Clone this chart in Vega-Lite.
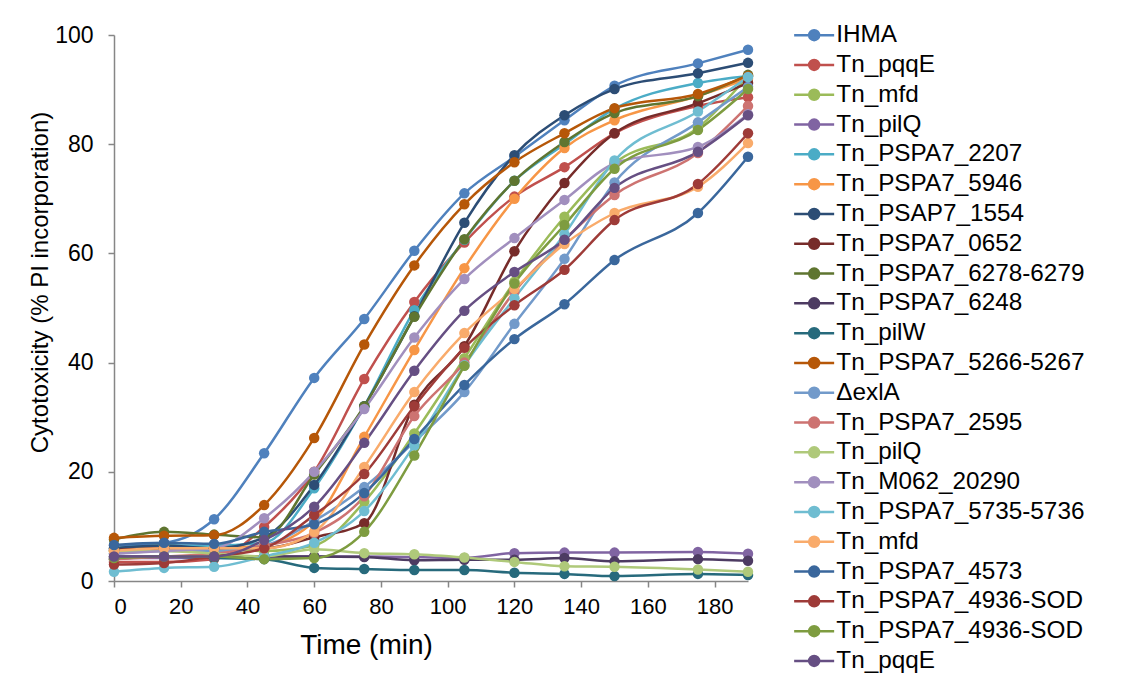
{
  "$schema": "https://vega.github.io/schema/vega-lite/v6.json",
  "width": 634,
  "height": 546,
  "autosize": "none",
  "padding": {"left": 114, "top": 35, "right": 375, "bottom": 94},
  "background": "white",
  "config": {
    "view": {"stroke": null},
    "font": "Liberation Sans",
    "axis": {
      "domainColor": "#868686", "tickColor": "#868686", "domainWidth": 1.5, "tickWidth": 1.5, "tickSize": 6,
      "labelFont": "Liberation Sans", "labelFontSize": 22, "labelColor": "#000",
      "titleFont": "Liberation Sans", "titleFontWeight": "normal", "titleColor": "#000",
      "grid": false
    }
  },
  "data": {"values": [
    {"s":"IHMA","t":0,"v":6.5},{"s":"IHMA","t":15,"v":7.0},{"s":"IHMA","t":30,"v":11.3},{"s":"IHMA","t":45,"v":23.4},{"s":"IHMA","t":60,"v":37.2},{"s":"IHMA","t":75,"v":48.0},{"s":"IHMA","t":90,"v":60.5},{"s":"IHMA","t":105,"v":71.0},{"s":"IHMA","t":120,"v":77.7},{"s":"IHMA","t":135,"v":84.4},{"s":"IHMA","t":150,"v":90.7},{"s":"IHMA","t":175,"v":94.8},{"s":"IHMA","t":190,"v":97.3},
    {"s":"Tn_pqqE","t":0,"v":3.5},{"s":"Tn_pqqE","t":15,"v":3.5},{"s":"Tn_pqqE","t":30,"v":4.0},{"s":"Tn_pqqE","t":45,"v":9.9},{"s":"Tn_pqqE","t":60,"v":20.0},{"s":"Tn_pqqE","t":75,"v":37.0},{"s":"Tn_pqqE","t":90,"v":51.1},{"s":"Tn_pqqE","t":105,"v":62.0},{"s":"Tn_pqqE","t":120,"v":70.4},{"s":"Tn_pqqE","t":135,"v":75.8},{"s":"Tn_pqqE","t":150,"v":82.0},{"s":"Tn_pqqE","t":175,"v":87.0},{"s":"Tn_pqqE","t":190,"v":88.6},
    {"s":"Tn_mfd","t":0,"v":5.5},{"s":"Tn_mfd","t":15,"v":6.5},{"s":"Tn_mfd","t":30,"v":6.0},{"s":"Tn_mfd","t":45,"v":5.5},{"s":"Tn_mfd","t":60,"v":6.5},{"s":"Tn_mfd","t":75,"v":14.5},{"s":"Tn_mfd","t":90,"v":27.0},{"s":"Tn_mfd","t":105,"v":40.8},{"s":"Tn_mfd","t":120,"v":54.8},{"s":"Tn_mfd","t":135,"v":66.7},{"s":"Tn_mfd","t":150,"v":76.5},{"s":"Tn_mfd","t":175,"v":83.0},{"s":"Tn_mfd","t":190,"v":92.5},
    {"s":"Tn_pilQ","t":0,"v":4.2},{"s":"Tn_pilQ","t":15,"v":4.2},{"s":"Tn_pilQ","t":30,"v":4.3},{"s":"Tn_pilQ","t":45,"v":4.5},{"s":"Tn_pilQ","t":60,"v":4.5},{"s":"Tn_pilQ","t":75,"v":4.5},{"s":"Tn_pilQ","t":90,"v":4.4},{"s":"Tn_pilQ","t":105,"v":4.2},{"s":"Tn_pilQ","t":120,"v":5.1},{"s":"Tn_pilQ","t":135,"v":5.2},{"s":"Tn_pilQ","t":150,"v":5.2},{"s":"Tn_pilQ","t":175,"v":5.3},{"s":"Tn_pilQ","t":190,"v":5.0},
    {"s":"Tn_PSPA7_2207","t":0,"v":6.0},{"s":"Tn_PSPA7_2207","t":15,"v":6.5},{"s":"Tn_PSPA7_2207","t":30,"v":6.5},{"s":"Tn_PSPA7_2207","t":45,"v":7.0},{"s":"Tn_PSPA7_2207","t":60,"v":17.0},{"s":"Tn_PSPA7_2207","t":75,"v":32.0},{"s":"Tn_PSPA7_2207","t":90,"v":49.6},{"s":"Tn_PSPA7_2207","t":105,"v":62.5},{"s":"Tn_PSPA7_2207","t":120,"v":73.3},{"s":"Tn_PSPA7_2207","t":135,"v":80.0},{"s":"Tn_PSPA7_2207","t":150,"v":86.5},{"s":"Tn_PSPA7_2207","t":175,"v":91.2},{"s":"Tn_PSPA7_2207","t":190,"v":92.5},
    {"s":"Tn_PSPA7_5946","t":0,"v":5.5},{"s":"Tn_PSPA7_5946","t":15,"v":6.0},{"s":"Tn_PSPA7_5946","t":30,"v":6.0},{"s":"Tn_PSPA7_5946","t":45,"v":6.5},{"s":"Tn_PSPA7_5946","t":60,"v":11.0},{"s":"Tn_PSPA7_5946","t":75,"v":26.4},{"s":"Tn_PSPA7_5946","t":90,"v":42.3},{"s":"Tn_PSPA7_5946","t":105,"v":57.3},{"s":"Tn_PSPA7_5946","t":120,"v":70.0},{"s":"Tn_PSPA7_5946","t":135,"v":79.3},{"s":"Tn_PSPA7_5946","t":150,"v":84.4},{"s":"Tn_PSPA7_5946","t":175,"v":88.8},{"s":"Tn_PSPA7_5946","t":190,"v":92.0},
    {"s":"Tn_PSAP7_1554","t":0,"v":6.0},{"s":"Tn_PSAP7_1554","t":15,"v":6.5},{"s":"Tn_PSAP7_1554","t":30,"v":6.0},{"s":"Tn_PSAP7_1554","t":45,"v":8.0},{"s":"Tn_PSAP7_1554","t":60,"v":17.6},{"s":"Tn_PSAP7_1554","t":75,"v":32.0},{"s":"Tn_PSAP7_1554","t":90,"v":48.5},{"s":"Tn_PSAP7_1554","t":105,"v":65.6},{"s":"Tn_PSAP7_1554","t":120,"v":78.0},{"s":"Tn_PSAP7_1554","t":135,"v":85.3},{"s":"Tn_PSAP7_1554","t":150,"v":90.1},{"s":"Tn_PSAP7_1554","t":175,"v":93.0},{"s":"Tn_PSAP7_1554","t":190,"v":94.9},
    {"s":"Tn_PSPA7_0652","t":0,"v":5.7},{"s":"Tn_PSPA7_0652","t":15,"v":6.0},{"s":"Tn_PSPA7_0652","t":30,"v":6.0},{"s":"Tn_PSPA7_0652","t":45,"v":6.0},{"s":"Tn_PSPA7_0652","t":60,"v":8.0},{"s":"Tn_PSPA7_0652","t":75,"v":10.6},{"s":"Tn_PSPA7_0652","t":90,"v":32.3},{"s":"Tn_PSPA7_0652","t":105,"v":43.0},{"s":"Tn_PSPA7_0652","t":120,"v":60.4},{"s":"Tn_PSPA7_0652","t":135,"v":72.9},{"s":"Tn_PSPA7_0652","t":150,"v":82.0},{"s":"Tn_PSPA7_0652","t":175,"v":87.5},{"s":"Tn_PSPA7_0652","t":190,"v":91.2},
    {"s":"Tn_PSPA7_6278-6279","t":0,"v":7.6},{"s":"Tn_PSPA7_6278-6279","t":15,"v":9.0},{"s":"Tn_PSPA7_6278-6279","t":30,"v":8.5},{"s":"Tn_PSPA7_6278-6279","t":45,"v":8.0},{"s":"Tn_PSPA7_6278-6279","t":60,"v":19.5},{"s":"Tn_PSPA7_6278-6279","t":75,"v":32.0},{"s":"Tn_PSPA7_6278-6279","t":90,"v":48.4},{"s":"Tn_PSPA7_6278-6279","t":105,"v":62.6},{"s":"Tn_PSPA7_6278-6279","t":120,"v":73.3},{"s":"Tn_PSPA7_6278-6279","t":135,"v":80.4},{"s":"Tn_PSPA7_6278-6279","t":150,"v":85.7},{"s":"Tn_PSPA7_6278-6279","t":175,"v":88.8},{"s":"Tn_PSPA7_6278-6279","t":190,"v":92.7},
    {"s":"Tn_PSPA7_6248","t":0,"v":4.5},{"s":"Tn_PSPA7_6248","t":15,"v":4.5},{"s":"Tn_PSPA7_6248","t":30,"v":4.5},{"s":"Tn_PSPA7_6248","t":45,"v":4.5},{"s":"Tn_PSPA7_6248","t":60,"v":4.5},{"s":"Tn_PSPA7_6248","t":75,"v":4.4},{"s":"Tn_PSPA7_6248","t":90,"v":3.8},{"s":"Tn_PSPA7_6248","t":105,"v":3.9},{"s":"Tn_PSPA7_6248","t":120,"v":3.9},{"s":"Tn_PSPA7_6248","t":135,"v":4.2},{"s":"Tn_PSPA7_6248","t":150,"v":3.6},{"s":"Tn_PSPA7_6248","t":175,"v":4.0},{"s":"Tn_PSPA7_6248","t":190,"v":3.7},
    {"s":"Tn_pilW","t":0,"v":4.0},{"s":"Tn_pilW","t":15,"v":4.5},{"s":"Tn_pilW","t":30,"v":4.2},{"s":"Tn_pilW","t":45,"v":4.0},{"s":"Tn_pilW","t":60,"v":2.4},{"s":"Tn_pilW","t":75,"v":2.2},{"s":"Tn_pilW","t":90,"v":2.0},{"s":"Tn_pilW","t":105,"v":2.0},{"s":"Tn_pilW","t":120,"v":1.5},{"s":"Tn_pilW","t":135,"v":1.3},{"s":"Tn_pilW","t":150,"v":0.9},{"s":"Tn_pilW","t":175,"v":1.3},{"s":"Tn_pilW","t":190,"v":1.1},
    {"s":"Tn_PSPA7_5266-5267","t":0,"v":7.9},{"s":"Tn_PSPA7_5266-5267","t":15,"v":8.3},{"s":"Tn_PSPA7_5266-5267","t":30,"v":8.4},{"s":"Tn_PSPA7_5266-5267","t":45,"v":13.9},{"s":"Tn_PSPA7_5266-5267","t":60,"v":26.2},{"s":"Tn_PSPA7_5266-5267","t":75,"v":43.3},{"s":"Tn_PSPA7_5266-5267","t":90,"v":57.8},{"s":"Tn_PSPA7_5266-5267","t":105,"v":69.0},{"s":"Tn_PSPA7_5266-5267","t":120,"v":76.7},{"s":"Tn_PSPA7_5266-5267","t":135,"v":82.0},{"s":"Tn_PSPA7_5266-5267","t":150,"v":86.6},{"s":"Tn_PSPA7_5266-5267","t":175,"v":89.2},{"s":"Tn_PSPA7_5266-5267","t":190,"v":92.5},
    {"s":"ΔexlA","t":0,"v":5.0},{"s":"ΔexlA","t":15,"v":5.5},{"s":"ΔexlA","t":30,"v":5.5},{"s":"ΔexlA","t":45,"v":6.5},{"s":"ΔexlA","t":60,"v":11.0},{"s":"ΔexlA","t":75,"v":17.2},{"s":"ΔexlA","t":90,"v":25.5},{"s":"ΔexlA","t":105,"v":34.6},{"s":"ΔexlA","t":120,"v":47.1},{"s":"ΔexlA","t":135,"v":59.0},{"s":"ΔexlA","t":150,"v":73.0},{"s":"ΔexlA","t":175,"v":84.0},{"s":"ΔexlA","t":190,"v":90.5},
    {"s":"Tn_PSPA7_2595","t":0,"v":4.0},{"s":"Tn_PSPA7_2595","t":15,"v":4.5},{"s":"Tn_PSPA7_2595","t":30,"v":5.0},{"s":"Tn_PSPA7_2595","t":45,"v":6.5},{"s":"Tn_PSPA7_2595","t":60,"v":8.8},{"s":"Tn_PSPA7_2595","t":75,"v":15.5},{"s":"Tn_PSPA7_2595","t":90,"v":30.2},{"s":"Tn_PSPA7_2595","t":105,"v":40.0},{"s":"Tn_PSPA7_2595","t":120,"v":53.0},{"s":"Tn_PSPA7_2595","t":135,"v":62.5},{"s":"Tn_PSPA7_2595","t":150,"v":70.7},{"s":"Tn_PSPA7_2595","t":175,"v":78.4},{"s":"Tn_PSPA7_2595","t":190,"v":87.0},
    {"s":"Tn_pilQ ","t":0,"v":5.5},{"s":"Tn_pilQ ","t":15,"v":5.5},{"s":"Tn_pilQ ","t":30,"v":5.0},{"s":"Tn_pilQ ","t":45,"v":4.5},{"s":"Tn_pilQ ","t":60,"v":5.8},{"s":"Tn_pilQ ","t":75,"v":5.1},{"s":"Tn_pilQ ","t":90,"v":4.9},{"s":"Tn_pilQ ","t":105,"v":4.3},{"s":"Tn_pilQ ","t":120,"v":3.5},{"s":"Tn_pilQ ","t":135,"v":2.7},{"s":"Tn_pilQ ","t":150,"v":2.6},{"s":"Tn_pilQ ","t":175,"v":2.1},{"s":"Tn_pilQ ","t":190,"v":1.7},
    {"s":"Tn_M062_20290","t":0,"v":5.0},{"s":"Tn_M062_20290","t":15,"v":5.5},{"s":"Tn_M062_20290","t":30,"v":6.0},{"s":"Tn_M062_20290","t":45,"v":11.5},{"s":"Tn_M062_20290","t":60,"v":20.0},{"s":"Tn_M062_20290","t":75,"v":31.5},{"s":"Tn_M062_20290","t":90,"v":44.6},{"s":"Tn_M062_20290","t":105,"v":55.3},{"s":"Tn_M062_20290","t":120,"v":62.8},{"s":"Tn_M062_20290","t":135,"v":69.8},{"s":"Tn_M062_20290","t":150,"v":76.5},{"s":"Tn_M062_20290","t":175,"v":79.5},{"s":"Tn_M062_20290","t":190,"v":85.5},
    {"s":"Tn_PSPA7_5735-5736","t":0,"v":1.7},{"s":"Tn_PSPA7_5735-5736","t":15,"v":2.4},{"s":"Tn_PSPA7_5735-5736","t":30,"v":2.6},{"s":"Tn_PSPA7_5735-5736","t":45,"v":4.5},{"s":"Tn_PSPA7_5735-5736","t":60,"v":7.0},{"s":"Tn_PSPA7_5735-5736","t":75,"v":12.8},{"s":"Tn_PSPA7_5735-5736","t":90,"v":24.8},{"s":"Tn_PSPA7_5735-5736","t":105,"v":39.5},{"s":"Tn_PSPA7_5735-5736","t":120,"v":51.8},{"s":"Tn_PSPA7_5735-5736","t":135,"v":63.5},{"s":"Tn_PSPA7_5735-5736","t":150,"v":77.0},{"s":"Tn_PSPA7_5735-5736","t":175,"v":86.0},{"s":"Tn_PSPA7_5735-5736","t":190,"v":92.3},
    {"s":"Tn_mfd ","t":0,"v":5.5},{"s":"Tn_mfd ","t":15,"v":6.0},{"s":"Tn_mfd ","t":30,"v":6.0},{"s":"Tn_mfd ","t":45,"v":6.0},{"s":"Tn_mfd ","t":60,"v":9.0},{"s":"Tn_mfd ","t":75,"v":20.9},{"s":"Tn_mfd ","t":90,"v":34.6},{"s":"Tn_mfd ","t":105,"v":45.4},{"s":"Tn_mfd ","t":120,"v":53.5},{"s":"Tn_mfd ","t":135,"v":61.7},{"s":"Tn_mfd ","t":150,"v":67.4},{"s":"Tn_mfd ","t":175,"v":72.2},{"s":"Tn_mfd ","t":190,"v":80.2},
    {"s":"Tn_PSPA7_4573","t":0,"v":6.6},{"s":"Tn_PSPA7_4573","t":15,"v":7.0},{"s":"Tn_PSPA7_4573","t":30,"v":6.8},{"s":"Tn_PSPA7_4573","t":45,"v":9.0},{"s":"Tn_PSPA7_4573","t":60,"v":10.4},{"s":"Tn_PSPA7_4573","t":75,"v":16.1},{"s":"Tn_PSPA7_4573","t":90,"v":26.0},{"s":"Tn_PSPA7_4573","t":105,"v":35.9},{"s":"Tn_PSPA7_4573","t":120,"v":44.3},{"s":"Tn_PSPA7_4573","t":135,"v":50.7},{"s":"Tn_PSPA7_4573","t":150,"v":58.8},{"s":"Tn_PSPA7_4573","t":175,"v":67.4},{"s":"Tn_PSPA7_4573","t":190,"v":77.7},
    {"s":"Tn_PSPA7_4936-SOD","t":0,"v":3.0},{"s":"Tn_PSPA7_4936-SOD","t":15,"v":3.3},{"s":"Tn_PSPA7_4936-SOD","t":30,"v":4.5},{"s":"Tn_PSPA7_4936-SOD","t":45,"v":6.0},{"s":"Tn_PSPA7_4936-SOD","t":60,"v":12.1},{"s":"Tn_PSPA7_4936-SOD","t":75,"v":19.6},{"s":"Tn_PSPA7_4936-SOD","t":90,"v":32.0},{"s":"Tn_PSPA7_4936-SOD","t":105,"v":42.7},{"s":"Tn_PSPA7_4936-SOD","t":120,"v":50.5},{"s":"Tn_PSPA7_4936-SOD","t":135,"v":57.0},{"s":"Tn_PSPA7_4936-SOD","t":150,"v":66.1},{"s":"Tn_PSPA7_4936-SOD","t":175,"v":72.7},{"s":"Tn_PSPA7_4936-SOD","t":190,"v":82.0},
    {"s":"Tn_PSPA7_4936-SOD ","t":0,"v":4.2},{"s":"Tn_PSPA7_4936-SOD ","t":15,"v":4.5},{"s":"Tn_PSPA7_4936-SOD ","t":30,"v":4.5},{"s":"Tn_PSPA7_4936-SOD ","t":45,"v":4.0},{"s":"Tn_PSPA7_4936-SOD ","t":60,"v":4.2},{"s":"Tn_PSPA7_4936-SOD ","t":75,"v":9.0},{"s":"Tn_PSPA7_4936-SOD ","t":90,"v":23.0},{"s":"Tn_PSPA7_4936-SOD ","t":105,"v":39.4},{"s":"Tn_PSPA7_4936-SOD ","t":120,"v":54.5},{"s":"Tn_PSPA7_4936-SOD ","t":135,"v":65.2},{"s":"Tn_PSPA7_4936-SOD ","t":150,"v":75.5},{"s":"Tn_PSPA7_4936-SOD ","t":175,"v":82.6},{"s":"Tn_PSPA7_4936-SOD ","t":190,"v":90.1},
    {"s":"Tn_pqqE ","t":0,"v":4.5},{"s":"Tn_pqqE ","t":15,"v":4.5},{"s":"Tn_pqqE ","t":30,"v":4.5},{"s":"Tn_pqqE ","t":45,"v":7.5},{"s":"Tn_pqqE ","t":60,"v":13.6},{"s":"Tn_pqqE ","t":75,"v":25.3},{"s":"Tn_pqqE ","t":90,"v":38.5},{"s":"Tn_pqqE ","t":105,"v":49.5},{"s":"Tn_pqqE ","t":120,"v":56.6},{"s":"Tn_pqqE ","t":135,"v":62.5},{"s":"Tn_pqqE ","t":150,"v":72.0},{"s":"Tn_pqqE ","t":175,"v":78.6},{"s":"Tn_pqqE ","t":190,"v":85.3}
  ]},
  "encoding": {
    "x": {"field": "t", "type": "quantitative", "title": "Time (min)",
      "scale": {"domain": [0, 190], "nice": false, "zero": false},
      "axis": {"values": [0,20,40,60,80,100,120,140,160,180], "labelPadding": 9,
        "titleFontSize": 28, "titleX": 252, "titleY": 72, "titleAlign": "center", "titleBaseline": "alphabetic"}},
    "y": {"field": "v", "type": "quantitative", "title": "Cytotoxicity  (% PI incorporation)",
      "scale": {"domain": [0, 100], "nice": false},
      "axis": {"values": [0,20,40,60,80,100], "labelPadding": 15, "labelFontSize": 23,
        "titleFontSize": 24, "titleX": -74, "titleY": 247, "titleAngle": -90, "titleAlign": "center", "titleBaseline": "middle"}},
    "color": {"field": "s", "type": "nominal",
      "scale": {
        "domain": ["IHMA","Tn_pqqE","Tn_mfd","Tn_pilQ","Tn_PSPA7_2207","Tn_PSPA7_5946","Tn_PSAP7_1554","Tn_PSPA7_0652","Tn_PSPA7_6278-6279","Tn_PSPA7_6248","Tn_pilW","Tn_PSPA7_5266-5267","ΔexlA","Tn_PSPA7_2595","Tn_pilQ ","Tn_M062_20290","Tn_PSPA7_5735-5736","Tn_mfd ","Tn_PSPA7_4573","Tn_PSPA7_4936-SOD","Tn_PSPA7_4936-SOD ","Tn_pqqE "],
        "range": ["#4F81BD","#C0504D","#9BBB59","#8064A2","#4BACC6","#F79646","#2C4D75","#772C2A","#5F7530","#4D3B62","#276A7C","#B65708","#729ACA","#CD7371","#AFC97A","#A18FBE","#6FBDD1","#F9AB6B","#3A679C","#9E3B38","#7E9C40","#664F83"]
      },
      "legend": {
        "orient": "none", "legendX": 688, "legendY": -12, "title": null,
        "labelFont": "Liberation Sans", "labelFontSize": 24.3, "labelColor": "#000", "labelLimit": 400,
        "labelOffset": 10, "rowPadding": 4.8, "symbolLimit": 50,
        "symbolType": "M-2,0H2M0.5,0A0.5,0.5,0,1,1,-0.5,0A0.5,0.5,0,1,1,0.5,0",
        "symbolSize": 400, "symbolStrokeWidth": 2.5,
        "encode": {"symbols": {"update": {
          "fill": {"scale": "color", "field": "value"},
          "stroke": {"scale": "color", "field": "value"},
          "strokeWidth": {"value": 2.5},
          "opacity": {"value": 1}
        }}}
      }
    }
  },
  "layer": [
    {"mark": {"type": "line", "interpolate": "monotone", "strokeWidth": 2.5}},
    {"mark": {"type": "point", "shape": "circle", "filled": true, "size": 110, "opacity": 1}}
  ]
}
